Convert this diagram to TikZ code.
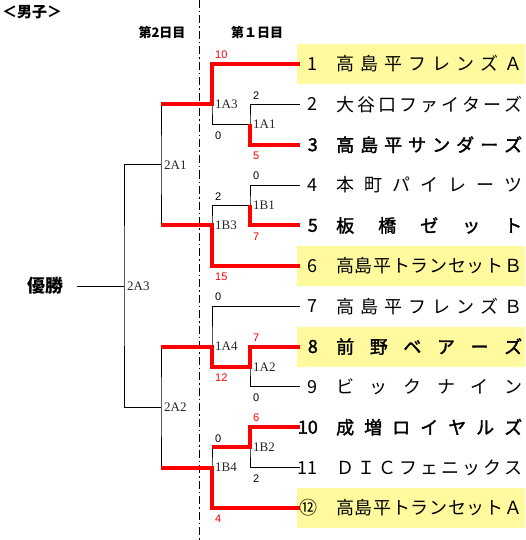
\documentclass[tikz,border=0pt]{standalone}
\usepackage{fontspec}
\usepackage{tikz}
\usetikzlibrary{calc}
\newfontfamily\jpfont{Noto Sans CJK JP}
\newfontfamily\jpbold[FakeBold=1.8]{Noto Sans CJK JP}
\newfontfamily\scorefont{Liberation Sans}
\newfontfamily\matchfont{Liberation Serif}
\definecolor{WinRed}{HTML}{FF0000}
\definecolor{HiYellow}{HTML}{FFFA9E}
% spread the letters of a team name over a fixed width
\def\spreadloop#1{\ifx#1\relax\else#1\hfil\expandafter\spreadloop\fi}
\newcommand{\spreadname}[1]{\makebox[186pt][s]{\expandafter\spreadloop#1\relax\unskip}}

\begin{document}
\begin{tikzpicture}[x=1pt,y=-1pt,
    bk/.style={line width=1pt},
    rd/.style={line width=4pt,WinRed},
    hilite/.style={fill=HiYellow},
    teamno/.style={font=\jpfont\fontsize{18pt}{18pt}\selectfont,anchor=east,inner sep=0pt},
    teamname/.style={font=\jpfont\fontsize{18pt}{18pt}\selectfont,anchor=west,inner sep=0pt},
    won/.style={font=\jpbold\fontsize{18pt}{18pt}\selectfont},
    reg/.style={},
    match/.style={font=\matchfont\fontsize{13pt}{13pt}\selectfont,anchor=west,inner sep=0pt,xshift=3pt,text=black!85},
    score/.style={font=\scorefont\fontsize{11pt}{11pt}\selectfont,inner sep=0pt},
    scoreup/.style={anchor=south west,xshift=3pt,yshift=5pt},
    scoredn/.style={anchor=north west,xshift=3pt,yshift=-7pt},
    head/.style={font=\jpfont\bfseries\fontsize{13pt}{13pt}\selectfont,inner sep=0pt},
    daysep/.style={line width=0.8pt,dash pattern=on 8pt off 3pt on 1.5pt off 3pt}]
  \useasboundingbox (0,0) rectangle (525,540);
  % team line ends
  \foreach \i in {1,...,12}
    \coordinate (t\i) at (300,{64+40.36*(\i-1)});
  % match points
  \coordinate (j1A1) at (250,124.5);
  \coordinate (j1B1) at (250,205.3);
  \coordinate (j1A2) at (250,366.7);
  \coordinate (j1B2) at (250,447.4);
  \coordinate (j1A3) at (212,104.4);
  \coordinate (j1B3) at (212,225.4);
  \coordinate (j1A4) at (212,346.5);
  \coordinate (j1B4) at (212,467.6);
  \coordinate (j2A1) at (161,164.9);
  \coordinate (j2A2) at (161,407.1);
  \coordinate (j2A3) at (124,286);
  % day 1 winners
  \foreach \i in {1,6,8,12}
    \fill[hilite] ($(t\i)+(-3,-20)$) rectangle ($(t\i)+(225,20)$);
  % day separator
  \draw[daysep] (199,0) -- (199,540);
  % bracket
  \draw[bk] (t2) -| (j1A1) |- (t3);
  \draw[bk] (t1) -| (j1A3) |- (j1A1);
  \draw[bk] (t4) -| (j1B1) |- (t5);
  \draw[bk] (j1B1) -| (j1B3) |- (t6);
  \draw[bk] (t8) -| (j1A2) |- (t9);
  \draw[bk] (t7) -| (j1A4) |- (j1A2);
  \draw[bk] (t10) -| (j1B2) |- (t11);
  \draw[bk] (j1B2) -| (j1B4) |- (t12);
  \draw[bk] (j1A3) -| (j2A1) |- (j1B3);
  \draw[bk] (j1A4) -| (j2A2) |- (j1B4);
  \draw[bk] (j2A1) -| (j2A3) |- (j2A2);
  % results
  \draw[rd] (t1) -| (j1A3) -- (j1A3 -| j2A1);
  \draw[rd] (t3) -| (j1A1);
  \draw[rd] (t5) -| (j1B1);
  \draw[rd] (t6) -| (j1B3) -- (j1B3 -| j2A1);
  \draw[rd] (t8) -| (j1A2) -| (j1A4) -- (j1A4 -| j2A2);
  \draw[rd] (t10) -| (j1B2) -- (j1B2 -| j1B4);
  \draw[rd] (t12) -| (j1B4) -- (j1B4 -| j2A2);
  % teams
  \foreach \i/\num/\nm/\st in {1/1/高島平フレンズＡ/reg, 2/2/大谷口ファイターズ/reg,
      3/3/高島平サンダーズ/won, 4/4/本町パイレーツ/reg, 5/5/板橋ゼット/won,
      6/6/高島平トランセットＢ/reg, 7/7/高島平フレンズＢ/reg, 8/8/前野ベアーズ/won,
      9/9/ビックナイン/reg, 10/10/成増ロイヤルズ/won, 11/11/ＤＩＣフェニックス/reg,
      12/⑫/高島平トランセットＡ/reg} {
    \node[teamno,\st] (no\i) at ($(t\i)+(18,0)$) {\num};
    \node[teamname,\st] (name\i) at ($(t\i)+(36,0)$) {\spreadname{\nm}};
  }
  % scores
  \foreach \a/\b/\s/\c/\st [count=\k] in {t1/j1A3/10/WinRed/scoreup,
      j1A1/j1A3/0/black/scoredn, t2/j1A1/2/black/scoreup, t3/j1A1/5/WinRed/scoredn,
      t4/j1B1/0/black/scoreup, t5/j1B1/7/WinRed/scoredn, j1B1/j1B3/2/black/scoreup,
      t6/j1B3/15/WinRed/scoredn, t7/j1A4/0/black/scoreup, t8/j1A2/7/WinRed/scoreup,
      j1A2/j1A4/12/WinRed/scoredn, t9/j1A2/0/black/scoredn, t10/j1B2/6/WinRed/scoreup,
      j1B2/j1B4/0/black/scoreup, t11/j1B2/2/black/scoredn, t12/j1B4/4/WinRed/scoredn}
    \node[score,\st,text=\c] (s\k) at (\a -| \b) {\s};
  % match names
  \foreach \m in {1A1,1B1,1A2,1B2,1A3,1B3,1A4,1B4,2A1,2A2,2A3}
    \node[match] (m\m) at (j\m) {\m};
  % final
  \node[font=\jpfont\bfseries\fontsize{18pt}{18pt}\selectfont,inner sep=0pt] (yusho) at (45,286) {優勝};
  \draw[bk] ($(yusho.east)+(14,0)$) -- (j2A3);
  % headings
  \node[head,font=\jpfont\bfseries\fontsize{15pt}{15pt}\selectfont] (title) at (32,12) {＜男子＞};
  \node[head] (day2) at (162,32) {第2日目};
  \node[head] (day1) at (257,32) {第１日目};
\end{tikzpicture}
\end{document}
